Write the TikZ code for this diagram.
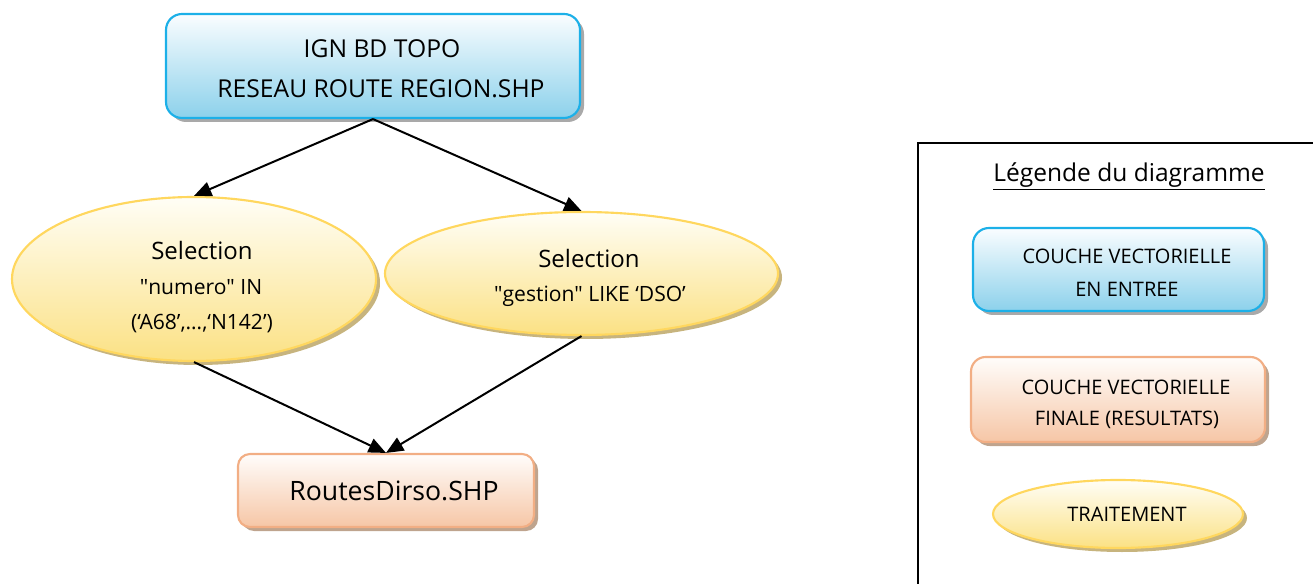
\documentclass[tikz,border=0pt]{standalone}
\usepackage{fontspec}
\setmainfont{Open Sans}
\usetikzlibrary{arrows.meta,shapes.geometric,shadows}
\newcommand\strq{\XeTeXglyph\XeTeXcharglyph"22\relax}
\definecolor{bluebd}{HTML}{1CB0E8}
\definecolor{bluetop}{HTML}{FAFDFF}
\definecolor{bluebot}{HTML}{8CD1EB}
\definecolor{orbd}{HTML}{F2AE84}
\definecolor{ortop}{HTML}{FFFDFB}
\definecolor{orbot}{HTML}{F6C6A6}
\definecolor{yebd}{HTML}{FFD75E}
\definecolor{yetop}{HTML}{FFFEF6}
\definecolor{yebot}{HTML}{FBE184}
\definecolor{shgray}{HTML}{A9A9A9}
\definecolor{shbrown}{HTML}{BFA48E}
\definecolor{shtan}{HTML}{C7B47E}
\tikzset{
  inbox/.style={draw=bluebd, line width=1.6pt, rounded corners=12pt, top color=bluetop, bottom color=bluebot,
    drop shadow={shadow xshift=3pt, shadow yshift=-3pt, fill=shgray, opacity=1}, inner sep=0pt},
  outbox/.style={draw=orbd, line width=1.6pt, rounded corners=9pt, top color=ortop, bottom color=orbot,
    drop shadow={shadow xshift=3pt, shadow yshift=-3pt, fill=shbrown, opacity=1}, inner sep=0pt},
  proc/.style={ellipse, draw=yebd, line width=1.6pt, top color=yetop, bottom color=yebot,
    drop shadow={shadow xshift=3pt, shadow yshift=-3pt, fill=shtan, opacity=1}, inner sep=0pt},
  conn/.style={line width=1.5pt, -{Triangle[length=13pt,width=11pt]}},
  tbig/.style={anchor=base, inner sep=0pt, font=\fontsize{18.5}{22}\selectfont},
  tsel/.style={anchor=base, inner sep=0pt, font=\fontsize{18}{22}\selectfont},
  tsub/.style={anchor=base, inner sep=0pt, font=\fontsize{15.8}{20}\selectfont},
  tres/.style={anchor=base, inner sep=0pt, font=\fontsize{20}{24}\selectfont},
  tleg/.style={anchor=base, inner sep=0pt, font=\fontsize{15}{18}\selectfont},
  ttitle/.style={anchor=base, inner sep=0pt, font=\fontsize{18.4}{22}\selectfont},
}
\begin{document}
\begin{tikzpicture}[x=0.75pt,y=-0.75pt]
\useasboundingbox (0,0) rectangle (1313,584);
% legend frame
\draw[line width=1.3pt] (918,584) -- (918,143) -- (1313,143);

% main shapes
\node[inbox, minimum width=310.5pt, minimum height=78pt] (src) at (373,66) {};
\node[proc, minimum width=273pt, minimum height=123pt] (sel1) at (194,279) {};
\node[proc, minimum width=294.75pt, minimum height=92.25pt] (sel2) at (581.5,273.5) {};
\node[outbox, minimum width=222pt, minimum height=54.75pt] (res) at (386,490.5) {};

% texts
\node[tbig] (srcA) at (382,58) {IGN BD TOPO};
\node[tbig] (srcB) at (381,98) {RESEAU ROUTE REGION.SHP};
\node[tsel] (s1A) at (202,260) {Selection};
\node[tsub] (s1B) at (201,295) {\strq numero\strq{} IN};
\node[tsub] (s1C) at (202,330) {(‘A68’,…,‘N142’)};
\node[tsel] (s2A) at (589,268) {Selection};
\node[tsub] (s2B) at (590,302) {\strq gestion\strq{} LIKE ‘DSO’};
\node[tres] (resA) at (394,500) {RoutesDirso.SHP};

% connectors
\draw[conn] (src.south) -- (sel1.north);
\draw[conn] (src.south) -- (sel2.north);
\draw[conn] (sel1.south) -- (res.north);
\draw[conn] (sel2.south) -- (res.north);

% legend
\node[ttitle] (ltitle) at (1129,182) {\underline{Légende du diagramme}};
\node[inbox, minimum width=218.25pt, minimum height=62.25pt] (lin) at (1118.5,269.5) {};
\node[tleg] (linA) at (1127,264) {COUCHE VECTORIELLE};
\node[tleg] (linB) at (1127,297) {EN ENTREE};
\node[outbox, minimum width=220.5pt, minimum height=63.75pt, rounded corners=11pt] (lout) at (1118,399.5) {};
\node[tleg] (loutA) at (1126,394) {COUCHE VECTORIELLE};
\node[tleg] (loutB) at (1127,426) {FINALE (RESULTATS)};
\node[proc, minimum width=187.5pt, minimum height=51pt] (lproc) at (1118,514) {};
\node[tleg] (lprocA) at (1127,521) {TRAITEMENT};
\end{tikzpicture}
\end{document}
